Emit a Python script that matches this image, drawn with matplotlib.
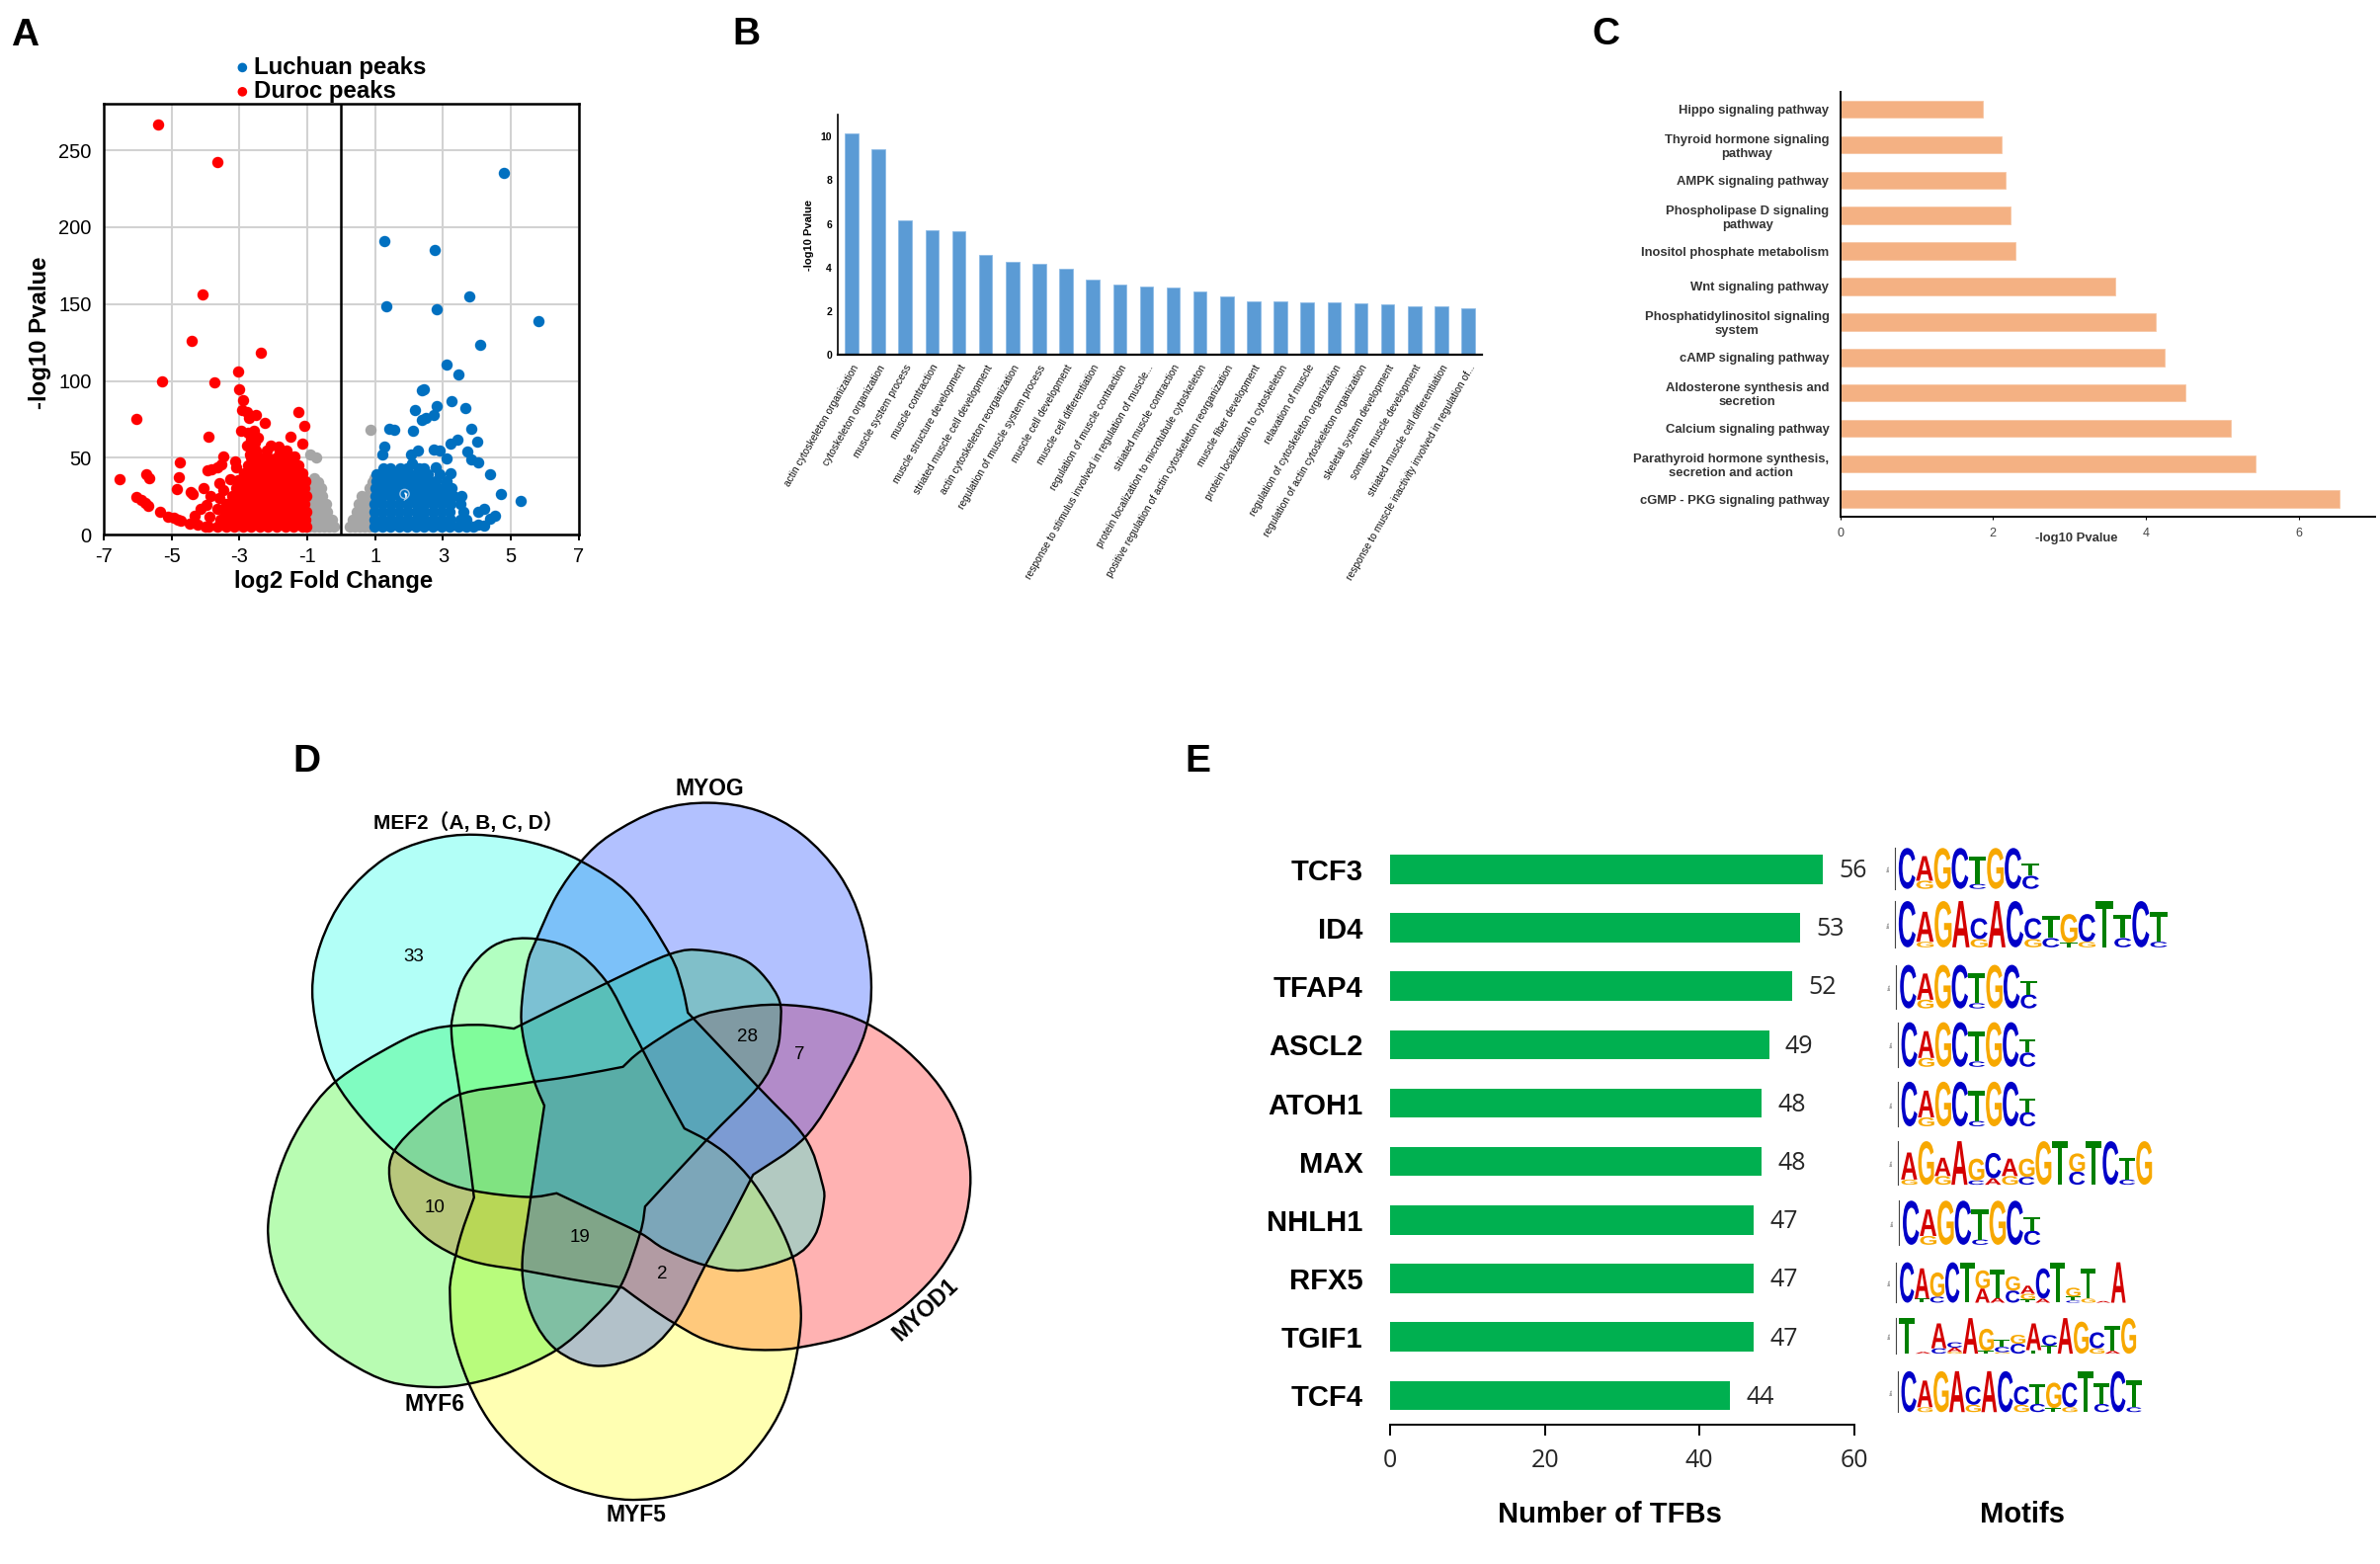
import matplotlib
matplotlib.use('Agg')
import matplotlib.pyplot as plt
from matplotlib.patches import PathPatch
from matplotlib.path import Path
from matplotlib.textpath import TextPath
from matplotlib.font_manager import FontProperties
import numpy as np

W, H = 2409, 1583
plt.rcParams['font.family'] = ['Liberation Sans', 'DejaVu Sans']
plt.rcParams['axes.unicode_minus'] = False

# --- panel A: volcano
red_x = [-5.41, -3.65, -4.09, -4.40, -2.38, -3.05, -5.29, -3.74, -3.0, -2.88, -6.04, -2.91, -2.78, -2.5, -2.71, -2.25,
         -1.27, -1.09, -3.91, -1.49, -2.95, -2.57, -2.75, -2.45, -1.14, -2.63, -2.07, -1.85, -2.78, -4.75, -3.46, -1.38,
         -4.78, -4.84, -4.44, -4.37, -6.52, -5.75, -5.66, -6.04, -5.9, -5.78, -5.68, -5.33, -5.09, -4.94, -4.82, -4.73,
         -4.33, -4.47, -4.23, -3.99, -4.15, -3.97, -3.85, -4.06, -3.93, -3.83, -3.64, -3.52, -3.11, -3.1, -3.58, -3.46,
         -3.28, -3.04, -3.58, -3.64, -3.87, -3.4, -2.7, -2.6, -2.65, -2.55]
red_y = [267, 242, 156, 126, 118, 106, 100, 99, 94.6, 87.5, 75, 81, 80, 78, 76, 73,
         79.5, 71, 64, 64, 67.6, 67.6, 66, 63, 59, 59, 58, 57.5, 58, 47, 51, 51,
         37.5, 29.6, 28, 26.5, 36, 39.6, 37, 24.6, 22.5, 20.4, 19, 14.7, 12, 11, 10, 9,
         12.3, 7.3, 6.3, 5, 16.8, 19.4, 25, 30, 41.7, 42.5, 43.5, 45.6, 47.4, 43.5, 33.8, 29,
         36, 35.6, 24, 16.8, 12, 20, 52, 55, 62, 60]
# dense part of the red cloud, by height
red_rows = {
    5: [-3.9, -3.65, -3.4, -3.15, -2.9, -2.65, -2.4, -2.15, -1.9, -1.65, -1.4, -1.15, -1.02],
    10: [-3.55, -3.3, -3.05, -2.8, -2.55, -2.3, -2.05, -1.8, -1.55, -1.3, -1.06],
    15: [-3.45, -3.2, -2.95, -2.7, -2.45, -2.2, -1.95, -1.7, -1.45, -1.2, -1.02],
    20: [-3.3, -3.05, -2.8, -2.55, -2.3, -2.05, -1.8, -1.55, -1.3, -1.08],
    25: [-3.2, -2.95, -2.7, -2.45, -2.2, -1.95, -1.7, -1.45, -1.2, -1.02],
    30: [-3.1, -2.85, -2.6, -2.35, -2.1, -1.85, -1.6, -1.35, -1.1],
    35: [-3.0, -2.75, -2.5, -2.25, -2.0, -1.75, -1.5, -1.25, -1.06],
    40: [-2.85, -2.65, -2.4, -2.15, -1.9, -1.65, -1.4, -1.15],
    45: [-2.75, -2.5, -2.25, -2.0, -1.75, -1.5, -1.25],
    50: [-2.65, -2.4, -2.15, -1.9, -1.65, -1.4],
    55: [-2.5, -2.2, -1.8, -1.6],
}
blue_x = [4.81, 1.26, 2.77, 3.78, 1.33, 2.83, 5.82, 4.11, 3.11, 3.45, 2.38, 2.43, 3.24, 2.83, 3.66, 2.18, 2.72, 2.37, 2.5,
          1.41, 1.55, 2.13, 3.83, 3.42, 3.23, 4.02, 1.26, 2.26, 2.73, 2.89, 2.07, 1.2, 3.71, 3.83, 4.04, 3.11, 2.09, 2.78,
          4.39, 4.71, 5.3, 3.23, 4.54, 4.4, 4.2, 4.03, 4.2, 4.03]
blue_y = [235, 191, 185, 155, 148.6, 146.5, 138.6, 123.4, 110.6, 104.3, 93.8, 94.6, 87, 83.6, 82.3, 81.2, 78, 74.4, 75.7,
          69, 68, 67.3, 69, 61.6, 59.2, 60.3, 57.4, 54.8, 55.6, 54.5, 52, 52, 54, 48.7, 47, 49.5, 46.6, 43.8,
          39.6, 26.2, 21.8, 40, 12.6, 10.7, 16.8, 15.2, 5.8, 6.8]
blue_rows = {
    5: [0.98, 1.2, 1.45, 1.7, 1.95, 2.2, 2.45, 2.7, 2.95, 3.2, 3.45, 3.7, 3.9],
    10: [0.98, 1.22, 1.47, 1.72, 1.97, 2.22, 2.47, 2.72, 2.97, 3.22, 3.5, 3.7],
    15: [0.98, 1.2, 1.45, 1.7, 1.95, 2.2, 2.45, 2.7, 2.95, 3.2, 3.6],
    20: [0.98, 1.22, 1.47, 1.72, 1.97, 2.22, 2.47, 2.72, 2.97, 3.22, 3.5],
    25: [1.0, 1.2, 1.45, 1.7, 2.1, 2.3, 2.55, 2.8, 3.05, 3.3, 3.55],
    30: [1.0, 1.25, 1.5, 1.75, 2.0, 2.25, 2.5, 2.75, 3.0, 3.25],
    35: [1.05, 1.3, 1.55, 1.8, 2.05, 2.3, 2.55, 2.8, 3.1],
    39: [1.05, 1.3, 1.55, 1.8, 2.05, 2.3, 2.55, 2.9],
    43: [1.25, 1.45, 1.75, 1.95, 2.3, 2.45],
}
grey_x = [-0.9, -0.74, 0.86]
grey_y = [52, 50, 68.4]
grey_rows = {
    5: [-0.95, -0.8, -0.65, -0.5, -0.35, -0.22, 0.25, 0.4, 0.55, 0.7, 0.85],
    10: [-0.95, -0.8, -0.65, -0.5, -0.35, -0.26, 0.35, 0.5, 0.65, 0.8, 0.92],
    15: [-0.95, -0.8, -0.65, -0.5, -0.42, 0.45, 0.6, 0.75, 0.9],
    20: [-0.9, -0.75, -0.6, -0.45, 0.52, 0.65, 0.8, 0.92],
    25: [-0.9, -0.75, -0.55, 0.6, 0.78, 0.92],
    30: [-0.88, -0.72, -0.6, 0.85, 0.95],
    34: [-0.85, -0.68, 0.92],
    37: [-0.8, 0.98],
}
open_x = [1.87]
open_y = [26.5]
volcano_xticks = [-7, -5, -3, -1, 1, 3, 5, 7]
volcano_yticks = [0, 50, 100, 150, 200, 250]

# --- panel B
bp_terms = ['actin cytoskeleton organization', 'cytoskeleton organization', 'muscle system process', 'muscle contraction',
            'muscle structure development', 'striated muscle cell development', 'actin cytoskeleton reorganization',
            'regulation of muscle system process', 'muscle cell development', 'muscle cell differentiation',
            'regulation of muscle contraction', 'response to stimulus involved in regulation of muscle...',
            'striated muscle contraction', 'protein localization to microtubule cytoskeleton',
            'positive regulation of actin cytoskeleton reorganization', 'muscle fiber development',
            'protein localization to cytoskeleton', 'relaxation of muscle', 'regulation of cytoskeleton organization',
            'regulation of actin cytoskeleton organization', 'skeletal system development', 'somatic muscle development',
            'striated muscle cell differentiation', 'response to muscle inactivity involved in regulation of...']
bp_values = [10.13, 9.43, 6.18, 5.72, 5.68, 4.56, 4.28, 4.15, 3.93, 3.43, 3.21, 3.12, 3.06, 2.88, 2.66, 2.45, 2.43, 2.40,
             2.38, 2.34, 2.29, 2.23, 2.20, 2.14]

# --- panel C
pathways = ['Hippo signaling pathway', 'Thyroid hormone signaling\npathway', 'AMPK signaling pathway',
            'Phospholipase D signaling\npathway', 'Inositol phosphate metabolism', 'Wnt signaling pathway',
            'Phosphatidylinositol signaling\nsystem', 'cAMP signaling pathway', 'Aldosterone synthesis and\nsecretion',
            'Calcium signaling pathway', 'Parathyroid hormone synthesis,\nsecretion and action', 'cGMP - PKG signaling pathway']
pathway_values = [1.87, 2.11, 2.17, 2.23, 2.30, 3.60, 4.13, 4.25, 4.52, 5.11, 5.43, 6.53]

# --- panel D: counts and set outlines (curve sections between corners, in zoomed pixels)
venn_numbers = ['33', '28', '7', '10', '19', '2']
venn_number_pos = [(360, 425), (1038, 575), (1144, 610), (403, 897), (698, 953), (865, 1022)]
mef2 = [[(917, 530), (905, 480), (880, 420), (800, 310), (700, 245), (600, 210), (485, 195), (390, 205), (300, 240), (220, 310),
         (170, 400), (153, 490), (170, 590), (200, 660), (255, 730), (320, 790), (400, 840), (480, 865), (590, 877), (650, 870)],
        [(650, 870), (730, 905), (820, 945), (870, 975), (950, 1005), (1030, 1015), (1130, 990), (1175, 950), (1193, 890), (1190, 850),
         (1155, 765), (1060, 670), (917, 530)]]
myog = [[(625, 705), (605, 660), (585, 590), (578, 530), (590, 440), (610, 390), (650, 310), (700, 245), (760, 195), (860, 148),
         (960, 135), (1060, 150), (1150, 195), (1225, 270), (1270, 360), (1290, 470), (1278, 565), (1230, 660), (1155, 765), (1050, 835)],
        [(1050, 835), (1000, 925), (950, 1010), (890, 1115), (820, 1175), (730, 1195), (650, 1165), (600, 1100), (580, 1010), (597, 880),
         (625, 705)]]
myod1 = [[(785, 632), (825, 600), (930, 540), (1010, 522), (1100, 515), (1200, 525), (1280, 550), (1360, 600), (1430, 670), (1475, 750),
          (1492, 840), (1478, 930), (1440, 1000), (1390, 1055), (1330, 1100), (1240, 1140), (1145, 1160), (1090, 1165), (1020, 1162), (950, 1145),
          (890, 1115), (840, 1085), (785, 1048)],
         [(785, 1048), (680, 1032), (580, 1015), (500, 1003), (440, 985), (380, 950), (330, 895), (310, 840), (320, 790), (375, 735),
          (450, 685), (570, 665), (680, 650), (785, 632)]]
myf5 = [[(910, 748), (870, 680), (825, 600), (800, 555), (750, 470), (680, 410), (590, 390), (520, 405), (465, 460), (440, 530),
         (437, 580), (453, 680), (470, 790), (482, 878)],
        [(482, 878), (455, 950), (437, 1020), (433, 1060), (440, 1140), (470, 1225), (510, 1295), (560, 1350), (620, 1397), (680, 1425),
         (750, 1442), (815, 1447), (900, 1437), (1000, 1400), (1065, 1340), (1110, 1270), (1135, 1190), (1147, 1110), (1142, 1045), (1130, 990),
         (1100, 925), (1050, 850), (1000, 800), (955, 770), (910, 748)]]
myf6 = [[(563, 560), (490, 553), (400, 560), (320, 590), (200, 660), (130, 740), (85, 830), (63, 930), (75, 1010), (110, 1080), (165, 1145),
         (230, 1190), (310, 1225), (400, 1235), (475, 1228), (560, 1205), (650, 1165), (720, 1110), (780, 1045), (820, 945), (830, 895)],
        [(830, 895), (955, 770), (1060, 670), (1095, 610), (1105, 560), (1100, 500), (1040, 435), (950, 413), (880, 420), (750, 475), (563, 560)]]
venn_sets = [myod1, myf5, myf6, mef2, myog]
venn_colors = ['#ff0000', '#ffff00', '#14f800', '#00ffe6', '#0032ff']

# --- panel E
tf_names = ['TCF3', 'ID4', 'TFAP4', 'ASCL2', 'ATOH1', 'MAX', 'NHLH1', 'RFX5', 'TGIF1', 'TCF4']
tf_counts = [56, 53, 52, 49, 48, 48, 47, 47, 47, 44]

# sequence logos: each column is a stack from the bottom, letter + height in %
logo_short = ['C100', 'G20 A60', 'G100', 'C100', 'C12 T68', 'G100', 'C100', 'C32 T30']
logo_long = ['C100', 'G12 A65', 'G100', 'A100', 'G18 C45', 'A100', 'C100', 'G18 C45', 'C20 T48', 'T10 G62', 'G12 C60', 'T100',
             'C20 T50', 'C100', 'C12 T65']
logo_max = ['G12 A62', 'G100', 'G20 A42', 'A100', 'C10 G50', 'A15 C58', 'G20 A40', 'C18 G42', 'G100', 'T100', 'C30 G42',
            'T100', 'C100', 'C12 T50', 'G100']
logo_rfx5 = ['C100', 'T10 A75', 'C15 G60', 'C100', 'T100', 'A35 G45', 'A12 T70', 'C30 G35', 'T8 G14 A20', 'A10 C75', 'T100',
             'C5 T10 G22', 'G10 T75', 'A4', 'A100']
logo_tgif1 = ['T100', 'A5', 'C15 A70', 'G5 A12 C15', 'A100', 'T8 G62', 'G4 C15 T20', 'C28 G25', 'T10 A75', 'T22 C30', 'A100', 'G90',
              'G15 C45', 'A8 T70', 'G100']
tf_logos = [logo_short, logo_long, logo_short, logo_short, logo_short, logo_max, logo_short, logo_rfx5, logo_tgif1, logo_long]
logo_boxes = [(1056, 1260, 220, 297), (1056, 1445, 320, 407), (1058, 1257, 440, 522), (1060, 1255, 548, 632),
              (1060, 1255, 660, 744), (1060, 1423, 772, 854), (1062, 1262, 884, 967), (1058, 1385, 1000, 1076),
              (1058, 1400, 1105, 1172), (1060, 1408, 1205, 1282)]
base_colors = {'A': '#d40000', 'C': '#0000c8', 'G': '#f7a800', 'T': '#007f00'}


def ax_px(fig, left, top, right, bottom):
    return fig.add_axes([left / W, 1 - bottom / H, (right - left) / W, (bottom - top) / H])


def venn_xy(p):
    return 240 + p[0] / 2.01, 740 + p[1] / 1.86


def outline(sections):
    # catmull-rom through the traced points, sharp at the section ends
    verts, codes = [], []
    for sec in sections:
        pts = np.array([venn_xy(p) for p in sec], dtype=float)
        if not verts:
            verts.append(pts[0])
            codes.append(Path.MOVETO)
        for i in range(len(pts) - 1):
            p0 = pts[max(i - 1, 0)]
            p1, p2 = pts[i], pts[i + 1]
            p3 = pts[min(i + 2, len(pts) - 1)]
            verts += [p1 + (p2 - p0) / 6, p2 - (p3 - p1) / 6, p2]
            codes += [Path.CURVE4] * 3
    verts.append(verts[0])
    codes.append(Path.CLOSEPOLY)
    return Path(verts, codes)


fig = plt.figure(figsize=(W / 100, H / 100), dpi=100, facecolor='white')

# A
ax = ax_px(fig, 104.9, 105.3, 585.7, 541.2)
ax.grid(True, color='#d2d2d2', lw=1.5)
ax.set_axisbelow(True)
for rows, xs, ys, c in [(grey_rows, grey_x, grey_y, '#a6a6a6'), (red_rows, red_x, red_y, '#ff0000'), (blue_rows, blue_x, blue_y, '#0070c0')]:
    ax.scatter(xs, ys, s=68, color=c, lw=0, zorder=3, clip_on=False)
    for y, row in rows.items():
        ax.scatter(row, [y] * len(row), s=68, color=c, lw=0, zorder=3)
ax.scatter(open_x, open_y, s=44, facecolor='none', edgecolor='#9fc4e4', lw=1, zorder=4)
ax.axvline(0, color='k', lw=1.8, zorder=5)
ax.set_xlim(-7, 7)
ax.set_ylim(0, 280)
ax.set_xticks(volcano_xticks)
ax.set_yticks(volcano_yticks)
ax.tick_params(axis='x', length=4, width=1.4, labelsize=14.5, pad=5)
ax.tick_params(axis='y', length=0, labelsize=14.5, pad=9)
for s in ax.spines.values():
    s.set_linewidth(1.8)
ax.set_xlabel('log2 Fold Change', fontsize=17.3, fontweight='bold', labelpad=3, x=0.485)
ax.set_ylabel('-log10 Pvalue', fontsize=17.3, fontweight='bold', labelpad=5, y=0.47)
ax.scatter([-2.91, -2.91], [288, 303.7], s=48, color=['#ff0000', '#0070c0'], lw=0, clip_on=False)
ax.text(-2.57, 288, 'Duroc peaks', fontsize=17.3, fontweight='bold', va='center')
ax.text(-2.57, 303.7, 'Luchuan peaks', fontsize=17.3, fontweight='bold', va='center')

# B
ax = ax_px(fig, 847.6, 116.3, 1499.6, 359)
ax.bar(range(len(bp_values)), bp_values, width=0.5, color='#5b9bd5', edgecolor='#8fbce6', lw=0.6)
ax.set_xlim(-0.53, 23.5)
ax.set_ylim(0, 11)
ax.set_yticks(range(0, 11, 2))
ax.set_xticks(range(len(bp_terms)))
ax.set_xticklabels(bp_terms, rotation=60, ha='right', va='top', rotation_mode='anchor', fontsize=7.4, color='#111111')
ax.tick_params(axis='x', length=0, pad=6)
ax.tick_params(axis='y', length=0, labelsize=7.5, pad=4)
for lab in ax.get_yticklabels():
    lab.set_fontweight('bold')
for s in ['top', 'right']:
    ax.spines[s].set_visible(False)
ax.spines['left'].set_linewidth(1.2)
ax.spines['bottom'].set_linewidth(1.6)
ax.set_ylabel('-log10 Pvalue', fontsize=8, fontweight='bold', labelpad=5)

# C
ax = ax_px(fig, 1862.6, 93, 2404, 522.8)
ypos = range(len(pathway_values))
ax.barh(ypos, pathway_values, height=0.49, color='#f4b183', edgecolor='#f7c7a5', lw=0.6)
ax.set_ylim(len(pathway_values) - 0.51, -0.49)
ax.set_xlim(0, 7)
ax.set_xticks([0, 2, 4, 6])
ax.set_yticks(list(ypos))
ax.set_yticklabels(pathways, fontsize=9.4, fontweight='bold', color='#333333', multialignment='center')
ax.tick_params(axis='y', length=0, pad=8)
ax.tick_params(axis='x', length=2, labelsize=9, labelcolor='#444444', pad=6)
for s in ['top', 'right']:
    ax.spines[s].set_visible(False)
ax.spines['left'].set_linewidth(1.4)
ax.spines['bottom'].set_linewidth(1.4)

# overlay in picture pixels for free text, the venn and the logos
ov = fig.add_axes([0, 0, 1, 1], zorder=10)
ov.set_xlim(0, W)
ov.set_ylim(H, 0)
ov.axis('off')
ov.patch.set_alpha(0)
ov.text(2102, 545, '-log10 Pvalue', fontsize=9.4, fontweight='bold', color='#333333', ha='center', va='center')

for letter, (x, y) in zip('ABCDE', [(25, 36), (755, 35), (1625, 35), (310, 771), (1212, 771)]):
    ov.text(x, y, letter, fontsize=28, fontweight='bold', ha='center', va='center')

# D
for sec, col in zip(venn_sets, venn_colors):
    ov.add_patch(PathPatch(outline(sec), facecolor=col, alpha=0.3, lw=0))
for sec in venn_sets:
    ov.add_patch(PathPatch(outline(sec), facecolor='none', edgecolor='k', lw=1.7))
for txt, p in zip(venn_numbers, venn_number_pos):
    x, y = venn_xy(p)
    ov.text(x, y, txt, fontsize=13.5, ha='center', va='center')
venn_labels = [('MEF2（A, B, C, D）', (471, 172), 0, 15), ('MYOG', (962, 108), 0, 16.5), ('MYF6', (402, 1268), 0, 16.5),
               ('MYF5', (812, 1475), 0, 16.5), ('MYOD1', (1400, 1090), 43, 16.5)]
for txt, p, rot, size in venn_labels:
    x, y = venn_xy(p)
    ov.text(x, y, txt, fontsize=size, fontweight='bold', ha='center', va='center', rotation=rot,
            family=['Liberation Sans', 'Noto Sans CJK SC'])

# E
ax = ax_px(fig, 1407.3, 850.2, 1876.6, 1442)
ypos = range(len(tf_counts))
ax.barh(ypos, tf_counts, height=0.5, color='#00b050')
ax.set_xlim(0, 60)
ax.set_ylim(len(tf_counts) - 0.5, -0.5)
ax.set_xticks([0, 20, 40, 60])
ax.set_yticks(list(ypos))
ax.set_yticklabels(tf_names, fontsize=21, fontweight='bold')
ax.tick_params(axis='y', length=0, pad=20)
ax.tick_params(axis='x', length=8, width=1.4, pad=9)
for lab in ax.get_xticklabels():
    lab.set_fontsize(18)
    lab.set_family(['Open Sans', 'DejaVu Sans'])
    lab.set_color('#262626')
for s in ['top', 'right', 'left']:
    ax.spines[s].set_visible(False)
ax.spines['bottom'].set_linewidth(1.4)
for i, v in enumerate(tf_counts):
    ax.text(v + 2.1, i + 0.03, str(v), fontsize=18, va='center', color='#262626', family=['Open Sans', 'DejaVu Sans'])
ov.text(1629, 1533, 'Number of TFBs', fontsize=21, fontweight='bold', ha='center', va='center')
ov.text(2047, 1533, 'Motifs', fontsize=21, fontweight='bold', ha='center', va='center')

fp = FontProperties(family='Liberation Sans', weight='bold')
for logo, box in zip(tf_logos, logo_boxes):
    x0, x1 = 1180 + box[0] / 1.4255, 1180 + box[1] / 1.4255
    y0, y1 = 740 + box[2] / 1.86, 740 + box[3] / 1.86
    cw = (x1 - x0) / len(logo)
    ov.plot([x0 - 3, x0 - 3], [y0, y1], color='#444444', lw=0.8)
    ov.text(x0 - 9, (y0 + y1) / 2, 'bits', fontsize=3, rotation=90, ha='center', va='center', color='#444444')
    for j, col in enumerate(logo):
        base = y1
        for item in col.split():
            h = (y1 - y0) * int(item[1:]) / 100
            tp = TextPath((0, 0), item[0], size=10, prop=fp)
            v = tp.vertices
            bx0, by0 = v.min(axis=0)
            bx1, by1 = v.max(axis=0)
            nv = np.column_stack([x0 + j * cw + (v[:, 0] - bx0) / (bx1 - bx0) * cw,
                                  base - (v[:, 1] - by0) / (by1 - by0) * h])
            ov.add_patch(PathPatch(Path(nv, tp.codes), facecolor=base_colors[item[0]], lw=0))
            base -= h

fig.savefig('out.png', dpi=100)
